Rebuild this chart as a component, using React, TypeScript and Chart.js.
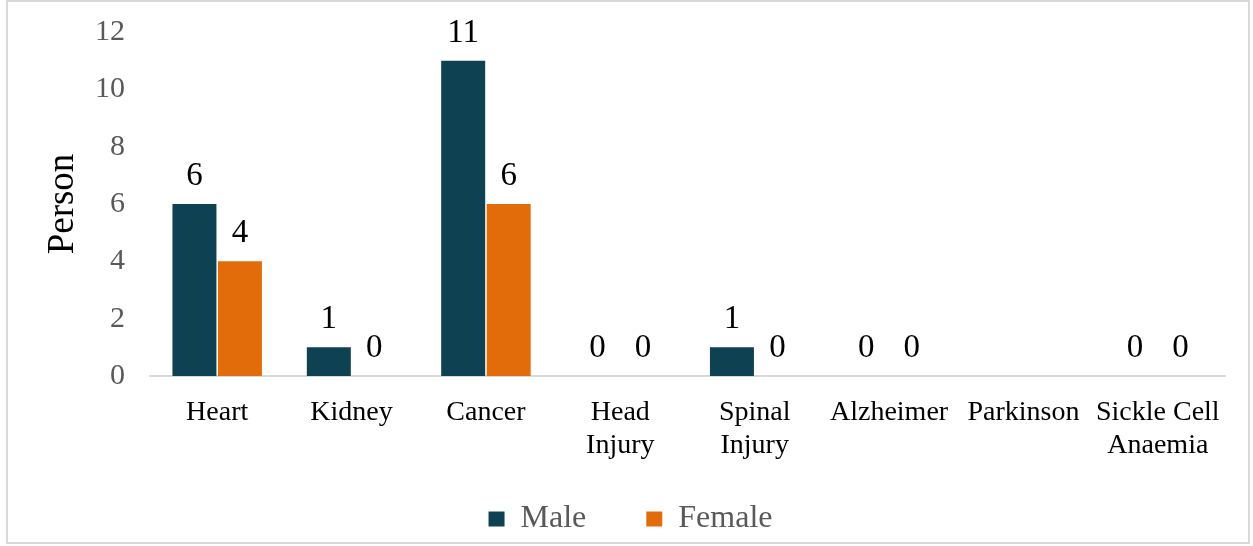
import React, { useEffect, useRef } from "react";
import { Chart, registerables } from "chart.js";

Chart.register(...registerables);

const categories: (string | string[])[] = [
  "Heart",
  "Kidney",
  "Cancer",
  ["Head", "Injury"],
  ["Spinal", "Injury"],
  "Alzheimer",
  "Parkinson",
  ["Sickle Cell", "Anaemia"],
];
const maleValues: (number | null)[] = [6, 1, 11, 0, 1, 0, null, 0];
const femaleValues: (number | null)[] = [4, 0, 6, 0, 0, 0, null, 0];
const yTicks = [0, 2, 4, 6, 8, 10, 12];

const MALE_COLOR = "#0E4152";
const FEMALE_COLOR = "#E36C0A";
const FONT = "'Liberation Serif', 'Times New Roman', serif";

const framePlugin = {
  id: "frame",
  beforeDraw(chart: any) {
    const ctx = chart.ctx;
    ctx.save();
    ctx.fillStyle = "#ffffff";
    ctx.fillRect(0, 0, chart.width, chart.height);
    ctx.strokeStyle = "#d9d9d9";
    ctx.lineWidth = 2;
    ctx.strokeRect(7, 1, 1242, 542);
    ctx.restore();
  },
};

const labelPlugin = {
  id: "barLabels",
  afterDatasetsDraw(chart: any) {
    const ctx = chart.ctx;
    ctx.save();
    ctx.font = `33px ${FONT}`;
    ctx.fillStyle = "#000000";
    ctx.textAlign = "center";
    ctx.textBaseline = "alphabetic";
    chart.data.datasets.forEach((ds: any, di: number) => {
      const meta = chart.getDatasetMeta(di);
      meta.data.forEach((bar: any, i: number) => {
        const v = ds.data[i];
        if (v === null || v === undefined) return;
        ctx.fillText(String(v), bar.x, bar.y - 19);
      });
    });
    ctx.restore();
  },
};

const legendShiftPlugin = {
  id: "legendShift",
  afterLayout(chart: any) {
    const lg = chart.legend;
    if (lg) {
      lg.left += 18;
      lg.right += 18;
      lg.top -= 28;
      lg.bottom -= 28;
    }
  },
};

export default function App() {
  const ref = useRef<HTMLCanvasElement | null>(null);
  useEffect(() => {
    if (!ref.current) return;
    const chart = new Chart(ref.current, {
      type: "bar",
      data: {
        labels: categories,
        datasets: [
          {
            label: "Male",
            data: maleValues,
            backgroundColor: MALE_COLOR,
            borderWidth: 0,
            categoryPercentage: 0.677,
            barPercentage: 0.967,
          },
          {
            label: "Female",
            data: femaleValues,
            backgroundColor: FEMALE_COLOR,
            borderWidth: 0,
            categoryPercentage: 0.677,
            barPercentage: 0.967,
          },
        ],
      },
      options: {
        responsive: false,
        animation: false,
        devicePixelRatio: 1,
        layout: { padding: { left: 0, right: 28, top: 32, bottom: -27 } },
        plugins: {
          tooltip: { enabled: false },
          legend: {
            position: "bottom",
            labels: {
              boxWidth: 16,
              boxHeight: 15,
              padding: 60,
              color: "#595959",
              font: { family: FONT, size: 32 },
            },
          },
        },
        scales: {
          x: {
            grid: { display: false, drawTicks: false },
            border: { display: true, color: "#d9d9d9", width: 2 },
            ticks: {
              color: "#000000",
              font: { family: FONT, size: 28, lineHeight: 1.15 },
              padding: 21,
              maxRotation: 0,
              autoSkip: false,
            },
            afterFit(scale: any) {
              scale.height = 95;
              scale.paddingTop = 0;
              scale.paddingBottom = 0;
            },
          },
          y: {
            min: 0,
            max: 12,
            afterBuildTicks(scale: any) {
              scale.ticks = yTicks.map((v) => ({ value: v }));
            },
            grid: { display: false, drawTicks: false },
            border: { display: false },
            ticks: {
              color: "#595959",
              font: { family: FONT, size: 30 },
              padding: 25,
            },
            title: {
              display: true,
              text: "Person",
              color: "#000000",
              font: { family: FONT, size: 37, lineHeight: 1.2 },
              padding: { top: 41, bottom: 0 },
            },
            afterFit(scale: any) {
              scale.width = 150;
              scale.paddingTop = 0;
              scale.paddingBottom = 0;
            },
          },
        },
      },
      plugins: [framePlugin, labelPlugin, legendShiftPlugin],
    });
    return () => chart.destroy();
  }, []);
  return (
    <canvas
      ref={ref}
      width={1253}
      height={546}
      style={{ position: "fixed", left: 0, top: 0, width: 1253, height: 546 }}
    />
  );
}
